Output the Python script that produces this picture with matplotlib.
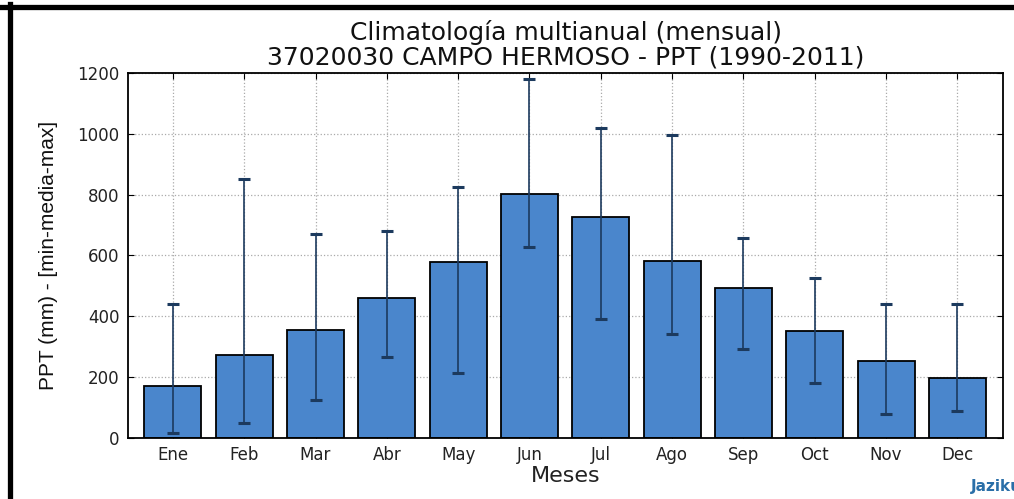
import matplotlib
matplotlib.use("Agg")
import matplotlib.pyplot as plt
from matplotlib.lines import Line2D
import numpy as np

months = ["Ene", "Feb", "Mar", "Abr", "May", "Jun", "Jul", "Ago", "Sep", "Oct", "Nov", "Dec"]
media = [172, 273, 355, 461, 580, 801, 727, 582, 494, 352, 253, 196]
minimo = [15, 49, 125, 266, 215, 628, 391, 342, 294, 180, 78, 89]
maximo = [440, 850, 670, 681, 826, 1179, 1019, 996, 658, 525, 440, 440]

W, H = 1014, 499
fig = plt.figure(figsize=(W/100, H/100), dpi=100)
ax = fig.add_axes([128/W, 1-438/H, (1003-128)/W, (438-73)/H])

x = np.arange(len(months))
media_a = np.array(media)
ax.bar(x, media, width=0.8, color="#4a86cc", edgecolor="black", linewidth=1.3, zorder=2)
ax.errorbar(x, media, yerr=[media_a - np.array(minimo), np.array(maximo) - media_a],
            fmt="none", ecolor="#1c3a5e", elinewidth=1.2, capsize=4, capthick=2.2, zorder=3)

ax.set_xlim(-0.63, 11.64)
ax.set_ylim(0, 1200)
ax.set_yticks(range(0, 1201, 200))
ax.set_xticks(x)
ax.set_xticklabels(months)
ax.grid(True, linestyle=":", color="#aaaaaa", linewidth=0.9, zorder=0)
ax.set_axisbelow(True)
ax.tick_params(axis="both", labelsize=12, length=4, direction="in", colors="black",
               top=True, right=True, labelcolor="#222222")
ax.tick_params(axis="x", pad=6)
ax.tick_params(axis="y", pad=6)
for s in ax.spines.values():
    s.set_linewidth(1.3)

ax.set_title("Climatología multianual (mensual)\n37020030 CAMPO HERMOSO - PPT (1990-2011)",
             fontsize=18, linespacing=1.05, pad=6, color="#111111")
ax.set_xlabel("Meses", fontsize=16, labelpad=1, color="#222222")
ax.set_ylabel("PPT (mm) - [min-media-max]", fontsize=15,
              family=["Liberation Sans", "DejaVu Sans"], labelpad=14, color="#111111")

fig.lines.append(Line2D([0, 1], [1-6.5/H, 1-6.5/H], transform=fig.transFigure,
                        color="black", linewidth=3.8))
fig.lines.append(Line2D([9.5/W, 9.5/W], [0, 1-4/H], transform=fig.transFigure,
                        color="black", linewidth=3.8))
fig.text(971/W, 1-487/H, "Jaziku", ha="left", va="center", color="#2a6fa8",
         fontsize=11, fontweight="bold")

fig.savefig("out.png", dpi=100)
